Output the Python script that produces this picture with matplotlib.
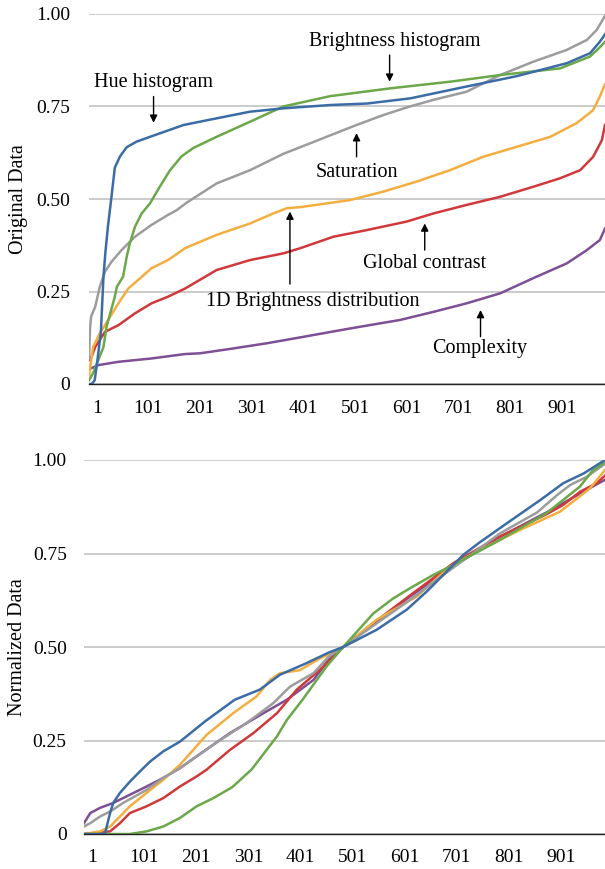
import matplotlib
matplotlib.use("Agg")
import matplotlib.pyplot as plt

plt.rcParams['font.family'] = ['Liberation Serif', 'DejaVu Serif']

# axis labels / ticks
tick_values = [1, 101, 201, 301, 401, 501, 601, 701, 801, 901]
y_ticks = [0, 0.25, 0.5, 0.75, 1.0]
y_tick_labels = ['0', '0.25', '0.50', '0.75', '1.00']

# ---- original data (sorted values, read at key ranks) ----
hue_x = [1, 6, 12, 16, 24, 27, 29, 33, 38, 44, 51, 61, 74, 93, 119, 184, 248, 313,
         377, 468, 539, 623, 732, 829, 926, 971, 990, 1000]
hue_y = [0.0, 0.0, 0.01, 0.05, 0.14, 0.23, 0.29, 0.36, 0.43, 0.50, 0.585, 0.615, 0.64,
         0.655, 0.668, 0.70, 0.718, 0.736, 0.745, 0.754, 0.758, 0.772, 0.804, 0.832,
         0.867, 0.894, 0.925, 0.945]

bhist_x = [1, 9, 29, 35, 51, 55, 67, 74, 80, 90, 103, 119, 138, 158, 180, 203, 248, 313,
           377, 468, 584, 700, 797, 913, 971, 990, 1000]
bhist_y = [0.01, 0.03, 0.10, 0.155, 0.236, 0.263, 0.29, 0.344, 0.38, 0.425, 0.461, 0.488,
           0.533, 0.578, 0.615, 0.638, 0.668, 0.709, 0.75, 0.778, 0.799, 0.817, 0.835,
           0.853, 0.885, 0.91, 0.925]

sat_x = [1, 3, 5, 13, 22, 32, 45, 64, 90, 122, 154, 171, 190, 248, 313, 377, 410, 468,
         519, 571, 622, 668, 732, 797, 861, 926, 965, 984, 1000]
sat_y = [0.069, 0.15, 0.182, 0.209, 0.263, 0.304, 0.331, 0.362, 0.398, 0.43, 0.457, 0.47,
         0.49, 0.542, 0.578, 0.622, 0.64, 0.672, 0.70, 0.727, 0.75, 0.768, 0.79, 0.835,
         0.871, 0.903, 0.93, 0.957, 0.995]

bdist_x = [1, 9, 22, 38, 58, 77, 96, 122, 154, 187, 248, 313, 358, 384, 410, 506, 571,
           635, 700, 764, 829, 894, 945, 977, 990, 1000]
bdist_y = [0.024, 0.10, 0.137, 0.173, 0.218, 0.258, 0.281, 0.313, 0.335, 0.367, 0.403,
           0.434, 0.461, 0.475, 0.478, 0.497, 0.52, 0.547, 0.578, 0.614, 0.641, 0.668,
           0.705, 0.74, 0.777, 0.81]

gcon_x = [1, 6, 13, 32, 58, 90, 122, 154, 187, 248, 313, 377, 410, 474, 539, 616, 668,
          732, 797, 861, 913, 952, 977, 994, 1000]
gcon_y = [0.065, 0.074, 0.10, 0.141, 0.159, 0.191, 0.218, 0.236, 0.258, 0.308, 0.335,
          0.353, 0.367, 0.398, 0.416, 0.439, 0.461, 0.484, 0.506, 0.533, 0.556, 0.578,
          0.614, 0.659, 0.70]

cplx_x = [1, 19, 58, 122, 187, 216, 280, 345, 410, 506, 603, 668, 732, 797, 861, 926,
          965, 990, 1000]
cplx_y = [0.04, 0.051, 0.06, 0.069, 0.081, 0.083, 0.096, 0.11, 0.126, 0.150, 0.173,
          0.195, 0.218, 0.245, 0.286, 0.326, 0.362, 0.389, 0.42]

# ---- normalized data ----
hue_nx = [1, 41, 51, 57, 70, 89, 108, 128, 153, 185, 233, 290, 338, 377, 428, 470, 498,
          562, 620, 658, 703, 728, 760, 812, 876, 920, 959, 1000]
hue_ny = [0, 0, 0.056, 0.083, 0.11, 0.14, 0.167, 0.194, 0.221, 0.247, 0.301, 0.359,
          0.386, 0.426, 0.457, 0.485, 0.50, 0.546, 0.60, 0.648, 0.711, 0.746, 0.78,
          0.831, 0.893, 0.938, 0.964, 1.0]

bhist_nx = [1, 89, 121, 153, 185, 217, 249, 285, 322, 371, 390, 420, 466, 498, 556, 594,
            626, 671, 703, 793, 888, 952, 977, 1000]
bhist_ny = [0, 0, 0.007, 0.02, 0.043, 0.074, 0.096, 0.125, 0.172, 0.261, 0.305, 0.359,
            0.448, 0.50, 0.59, 0.63, 0.657, 0.693, 0.715, 0.782, 0.858, 0.929, 0.973,
            0.993]

sat_nx = [1, 13, 32, 51, 76, 121, 153, 185, 249, 313, 364, 396, 441, 470, 498, 626, 703,
          799, 870, 908, 933, 965, 1000]
sat_ny = [0.02, 0.029, 0.047, 0.06, 0.083, 0.118, 0.15, 0.176, 0.239, 0.297, 0.35, 0.394,
          0.43, 0.474, 0.50, 0.626, 0.706, 0.804, 0.86, 0.906, 0.933, 0.955, 0.99]

bdist_nx = [1, 32, 51, 70, 89, 121, 153, 185, 236, 287, 332, 358, 377, 396, 415, 454, 470,
            498, 562, 639, 703, 754, 831, 914, 971, 1000]
bdist_ny = [0, 0.007, 0.02, 0.047, 0.074, 0.11, 0.145, 0.185, 0.265, 0.323, 0.368, 0.412,
            0.43, 0.434, 0.438, 0.47, 0.48, 0.50, 0.573, 0.635, 0.715, 0.755, 0.809,
            0.862, 0.924, 0.973]

gcon_nx = [1, 51, 70, 89, 121, 153, 185, 217, 236, 281, 326, 371, 409, 454, 498, 575,
           632, 709, 792, 888, 920, 952, 984, 1000]
gcon_ny = [0, 0.007, 0.029, 0.056, 0.074, 0.096, 0.127, 0.154, 0.172, 0.225, 0.27, 0.323,
           0.386, 0.44, 0.50, 0.584, 0.644, 0.724, 0.791, 0.855, 0.88, 0.915, 0.938,
           0.958]

cplx_nx = [1, 13, 32, 57, 89, 121, 153, 185, 204, 281, 345, 390, 441, 470, 498, 626, 703,
           799, 888, 952, 984, 1000]
cplx_ny = [0.029, 0.056, 0.07, 0.083, 0.105, 0.127, 0.15, 0.176, 0.195, 0.27, 0.323,
           0.359, 0.412, 0.466, 0.50, 0.635, 0.71, 0.795, 0.86, 0.91, 0.935, 0.947]

colors = {
    'cplx': '#7d4f95',
    'gcon': '#d0393b',
    'bdist': '#f3ae40',
    'sat': '#9c9c9c',
    'bhist': '#6aa84a',
    'hue': '#3b6ca6',
}

fig = plt.figure(figsize=(6.05, 8.69), dpi=100)
W, H = 605.0, 869.0
ax1 = fig.add_axes([89 / W, 1 - 384 / H, (605 - 89) / W, (384 - 14) / H])
ax2 = fig.add_axes([84 / W, 1 - 834 / H, (605 - 84) / W, (834 - 460) / H])

top = [(cplx_x, cplx_y, 'cplx'), (gcon_x, gcon_y, 'gcon'), (bdist_x, bdist_y, 'bdist'),
       (sat_x, sat_y, 'sat'), (bhist_x, bhist_y, 'bhist'), (hue_x, hue_y, 'hue')]
bottom = [(cplx_nx, cplx_ny, 'cplx'), (gcon_nx, gcon_ny, 'gcon'), (bdist_nx, bdist_ny, 'bdist'),
          (sat_nx, sat_ny, 'sat'), (bhist_nx, bhist_ny, 'bhist'), (hue_nx, hue_ny, 'hue')]

for ax, series, ypad, xpad in [(ax1, top, 13.5, 11.5), (ax2, bottom, 12.5, 11)]:
    for xs, ys, key in series:
        ax.plot(xs, ys, color=colors[key], lw=1.8, solid_joinstyle='round')
    ax.set_xlim(1, 1000)
    ax.set_ylim(0, 1)
    ax.set_yticks(y_ticks)
    ax.set_yticklabels(y_tick_labels)
    ax.set_xticks([t + 15 for t in tick_values])
    ax.set_xticklabels([str(t) for t in tick_values])
    ax.tick_params(axis='both', length=0, labelsize=14)
    ax.tick_params(axis='y', pad=ypad)
    ax.tick_params(axis='x', pad=xpad)
    ax.grid(axis='y', color='#bdbdbd', lw=1.1)
    ax.set_axisbelow(True)
    for s in ['top', 'right', 'left']:
        ax.spines[s].set_visible(False)
    ax.spines['bottom'].set_color('#222222')
    ax.spines['bottom'].set_linewidth(1.0)
    ax.spines['bottom'].set_zorder(5)

fig.text(18.5 / W, 1 - 199 / H, 'Original Data', rotation=90, ha='center', va='center',
         fontsize=14.5)
fig.text(17.5 / W, 1 - 647 / H, 'Normalized Data', rotation=90, ha='center', va='center',
         fontsize=14.5)

# annotations on the original-data panel
arrow = dict(arrowstyle='-|>', color='black', lw=1.0, mutation_scale=11,
             shrinkA=0, shrinkB=0)
notes = [
    ('Hue histogram', (126, 0.816), (126, 0.777), (126, 0.706)),
    ('Brightness histogram', (593, 0.925), (583, 0.889), (583, 0.817)),
    ('Saturation', (520, 0.572), (519, 0.614), (519, 0.678)),
    ('Global contrast', (651, 0.326), (651, 0.362), (651, 0.434)),
    ('1D Brightness distribution', (435, 0.222), (390, 0.27), (390, 0.466)),
    ('Complexity', (758, 0.096), (759, 0.128), (759, 0.2)),
]
for text, tpos, tail, head in notes:
    ax1.text(tpos[0], tpos[1], text, ha='center', va='center', fontsize=14.5)
    ax1.annotate('', xy=head, xytext=tail, arrowprops=arrow)

fig.savefig('out.png', dpi=100)
